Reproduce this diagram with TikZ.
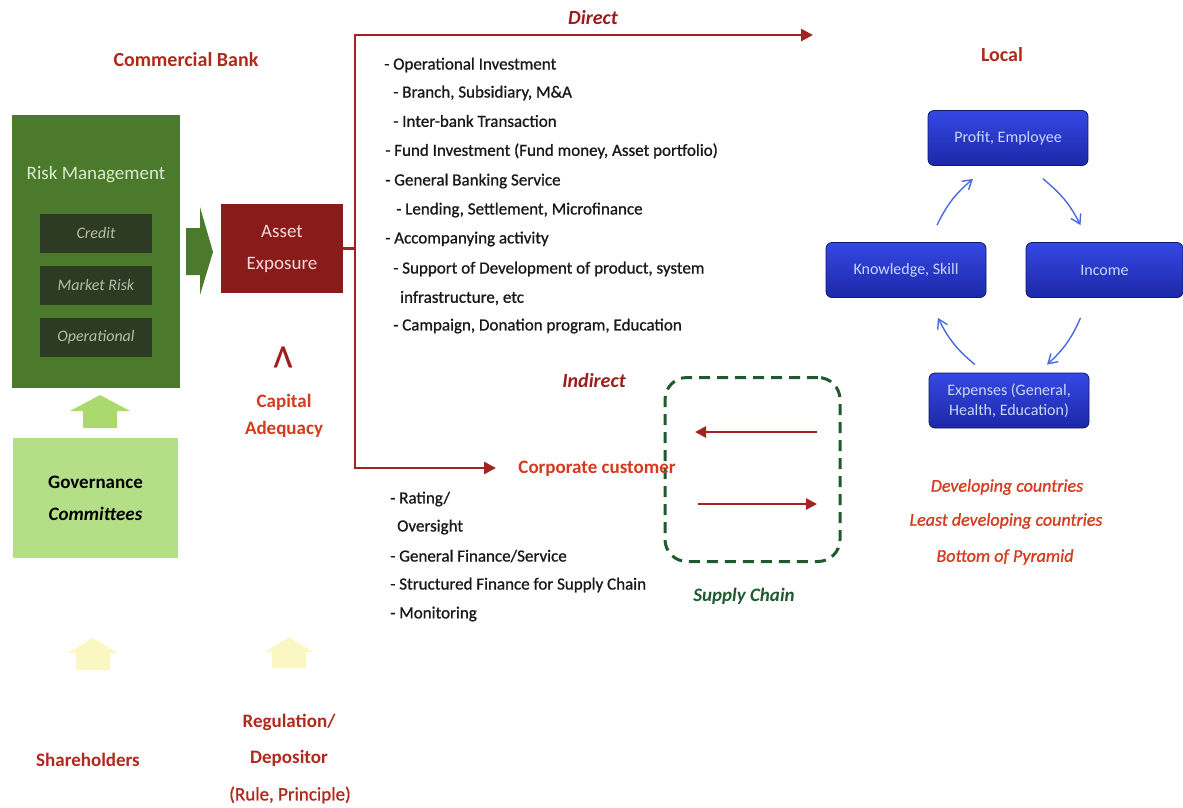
\documentclass[tikz,border=0pt]{standalone}
\usepackage{fontspec}
\setmainfont{Carlito}
\newfontfamily\semibold{Carlito}[FakeBold=0.9]
\usetikzlibrary{arrows.meta}

\definecolor{headred}{HTML}{B02A1C}
\definecolor{dirred}{HTML}{A01C1C}
\definecolor{orred}{HTML}{D33A1E}
\definecolor{linered}{HTML}{A32222}
\definecolor{riskgreen}{HTML}{4C7A2C}
\definecolor{riskdark}{HTML}{2D3A24}
\definecolor{risktext}{HTML}{DCEBD0}
\definecolor{subtext}{HTML}{B4BEAC}
\definecolor{govgreen}{HTML}{B4DF86}
\definecolor{uparrow}{HTML}{ABD96E}
\definecolor{paleyellow}{HTML}{FAF7C2}
\definecolor{assetred}{HTML}{8A1B1B}
\definecolor{assettext}{HTML}{F6DADA}
\definecolor{scgreen}{HTML}{1F5A30}
\definecolor{boxtop}{HTML}{3548E4}
\definecolor{boxbot}{HTML}{1C28A8}
\definecolor{boxline}{HTML}{101866}
\definecolor{boxtext}{HTML}{C9D7FF}
\definecolor{cycblue}{HTML}{4A6BE0}

\tikzset{
  head/.style={font=\fontsize{20}{24}\selectfont\bfseries, text=headred, inner sep=0pt},
  flowlabel/.style={font=\fontsize{20}{24}\selectfont\bfseries\itshape, text=dirred, inner sep=0pt},
  listitem/.style={anchor=west, font=\fontsize{17}{20}\selectfont\semibold, text=black!90, inner sep=0pt},
  redlabel/.style={font=\fontsize{19}{27}\selectfont\bfseries, text=orred, align=center, inner sep=0pt},
  subbox/.style={fill=riskdark, minimum width=112pt, minimum height=39pt, inner sep=0pt,
    font=\fontsize{16}{19}\selectfont\itshape, text=subtext},
  bluebox/.style={rounded corners=6pt, minimum width=160pt, minimum height=55pt, inner sep=0pt,
    top color=boxtop, bottom color=boxbot, draw=boxline, line width=0.8pt,
    font=\fontsize{16}{19}\selectfont, text=boxtext, align=center},
  redline/.style={draw=linered, line width=2.8pt},
  redtip/.style={-{Triangle[length=12pt,width=12pt]}},
  cyc/.style={draw=cycblue, line width=1.4pt, -{Straight Barb[length=9pt,width=11pt,line width=1.4pt]}},
  country/.style={font=\fontsize{18}{22}\selectfont\semibold\itshape, text=orred, inner sep=0pt},
}

\begin{document}
\begin{tikzpicture}[x=1pt,y=-1pt]
\useasboundingbox[fill=white] (0,0) rectangle (1183,807);

% ---------- commercial bank column ----------
\node[head] (cb) at (186,60) {Commercial Bank};

\node[fill=riskgreen, minimum width=168pt, minimum height=273pt, inner sep=0pt] (risk) at (96,251.5) {};
\node[font=\fontsize{19}{23}\selectfont, text=risktext, inner sep=0pt] (rmt) at (96,175) {Risk Management};
\node[subbox] (credit) at (96,233) {Credit};
\node[subbox] (market) at (96,285) {Market Risk};
\node[subbox] (oper)   at (96,337) {Operational};

% block arrow into asset exposure
\fill[riskgreen] (186,228) -- (200,228) -- (200,207) -- (213,252) -- (200,295) -- (200,275) -- (186,275) -- cycle;

\node[fill=assetred, minimum width=122pt, minimum height=89pt, inner sep=0pt,
      font=\fontsize{19}{32}\selectfont, text=assettext, align=center] (ae) at (282,248.5) {Asset\\Exposure};

\node[font=\fontsize{32}{36}\selectfont\semibold, text=dirred, inner sep=0pt] (wedge) at (283,357) {Λ};
\node[redlabel] (cap) at (284,416) {Capital\\Adequacy};

% governance
\fill[uparrow] (100,395) -- (130,411) -- (117,411) -- (117,428) -- (83,428) -- (83,411) -- (70,411) -- cycle;
\node[fill=govgreen, minimum width=165pt, minimum height=120pt, inner sep=0pt,
      font=\fontsize{19}{32}\selectfont\bfseries, text=black, align=center] (gov) at (95.5,498) {Governance\\\itshape Committees};

% stakeholders
\fill[paleyellow] (93,638) -- (118,653) -- (110,653) -- (110,670) -- (76,670) -- (76,653) -- (68,653) -- cycle;
\fill[paleyellow] (289,637) -- (313,652) -- (306,652) -- (306,668) -- (272,668) -- (272,652) -- (265,652) -- cycle;
\node[redlabel, text=headred] (sh) at (88,760) {Shareholders};
\node[redlabel, text=headred, font=\fontsize{19}{36}\selectfont\bfseries] (reg) at (289,740) {Regulation/\\Depositor};
\node[font=\fontsize{19}{23}\selectfont\semibold, text=headred, inner sep=0pt] (rule) at (290,795) {(Rule, Principle)};

% ---------- direct / indirect flows ----------
\coordinate (jn) at (355,248.5);
\coordinate (dirend) at (813,35);
\coordinate (indend) at (496,468);
\draw[redline] (ae.east) -- (jn);
\draw[redline, redtip] (jn) |- (dirend);
\draw[redline, redtip] (jn) |- (indend);

\node[flowlabel] (direct) at (593,18) {Direct};
\node[flowlabel] (indirect) at (594,381) {Indirect};

\node[listitem] (d1)  at (384,65)  {- Operational Investment};
\node[listitem] (d2)  at (393,93)  {- Branch, Subsidiary, M\&A};
\node[listitem] (d3)  at (393,121) {- Inter-bank Transaction};
\node[listitem] (d4)  at (385,151) {- Fund Investment (Fund money, Asset portfolio)};
\node[listitem] (d5)  at (385,181) {- General Banking Service};
\node[listitem] (d6)  at (396,210) {- Lending, Settlement, Microfinance};
\node[listitem] (d7)  at (385,239) {- Accompanying activity};
\node[listitem] (d8)  at (393,269) {- Support of Development of product, system};
\node[listitem] (d9)  at (400,298) {infrastructure, etc};
\node[listitem] (d10) at (393,326) {- Campaign, Donation program, Education};

% supply chain
\node[draw=scgreen, line width=3pt, dash pattern=on 11pt off 7pt, rounded corners=22pt,
      minimum width=175pt, minimum height=184pt, inner sep=0pt] (sc) at (752.5,469.5) {};
\coordinate (sc1a) at (817,432);
\coordinate (sc1b) at (695,432);
\coordinate (sc2a) at (698,504);
\coordinate (sc2b) at (817,504);
\draw[draw=linered, line width=2.6pt, -{Triangle[length=11pt,width=11pt]}] (sc1a) -- (sc1b);
\draw[draw=linered, line width=2.6pt, -{Triangle[length=11pt,width=11pt]}] (sc2a) -- (sc2b);
\node[font=\fontsize{19}{23}\selectfont\bfseries\itshape, text=scgreen, inner sep=0pt] (sct) at (744,596) {Supply Chain};

\node[redlabel] (cc) at (597,469) {Corporate customer};

\node[listitem] (i1) at (390,499) {- Rating/};
\node[listitem] (i2) at (397,527) {Oversight};
\node[listitem] (i3) at (390,556) {- General Finance/Service};
\node[listitem] (i4) at (390,585) {- Structured Finance for Supply Chain};
\node[listitem] (i5) at (390,614) {- Monitoring};

% ---------- local cycle ----------
\node[head] (local) at (1002,55) {Local};

\node[bluebox] (pe)  at (1008,138)   {Profit, Employee};
\node[bluebox] (kn)  at (906,270)    {Knowledge, Skill};
\node[bluebox, minimum width=157pt] (inc) at (1104.5,270) {Income};
\node[bluebox, font=\fontsize{16}{20}\selectfont] (ex)  at (1009,400.5) {Expenses (General,\\Health, Education)};

\draw[cyc] ([xshift=31pt,yshift=17pt]kn.north) to[bend left=12] ([xshift=-35pt,yshift=-13pt]pe.south);
\draw[cyc] ([xshift=35pt,yshift=-13pt]pe.south) to[bend left=12] ([xshift=-24pt,yshift=17pt]inc.north);
\draw[cyc] ([xshift=-24pt,yshift=-20pt]inc.south) to[bend left=12] ([xshift=38pt,yshift=8pt]ex.north);
\draw[cyc] ([xshift=-34pt,yshift=8pt]ex.north) to[bend left=12] ([xshift=32pt,yshift=-20pt]kn.south);

\node[country] (dc)  at (1007,487) {Developing countries};
\node[country] (ldc) at (1006,521) {Least developing countries};
\node[country] (bop) at (1005,557) {Bottom of Pyramid};
\end{tikzpicture}
\end{document}
